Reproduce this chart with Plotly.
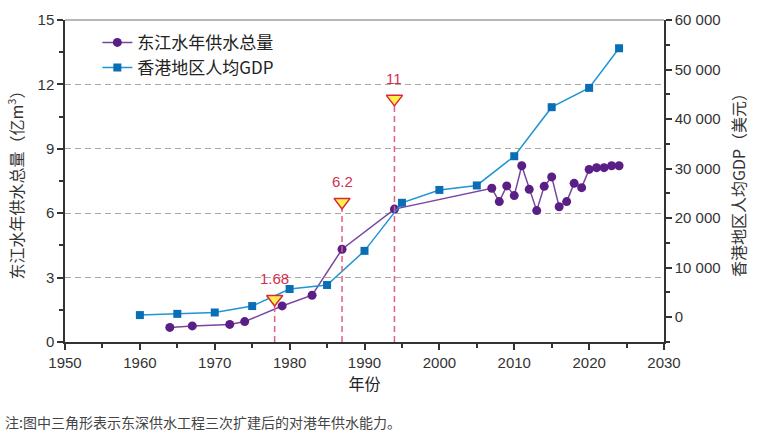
import plotly.graph_objects as go

# ---------------- data ----------------
water_years = [1964, 1967, 1972, 1974, 1979, 1983, 1987, 1994,
               2007, 2008, 2009, 2010, 2011, 2012, 2013, 2014, 2015,
               2016, 2017, 2018, 2019, 2020, 2021, 2022, 2023, 2024]
water_supply = [0.68, 0.75, 0.82, 0.95, 1.68, 2.18, 4.32, 6.19,
                7.16, 6.54, 7.27, 6.82, 8.21, 7.11, 6.12, 7.25, 7.69,
                6.30, 6.54, 7.39, 7.19, 8.04, 8.12, 8.12, 8.21, 8.21]

gdp_years = [1960, 1965, 1970, 1975, 1980, 1985, 1990, 1995,
             2000, 2005, 2010, 2015, 2020, 2024]
gdp_per_capita = [430, 680, 960, 2250, 5700, 6500, 13400, 23100,
                  25700, 26600, 32500, 42400, 46300, 54300]

capacity_years = [1978, 1987, 1994]
capacity_values = [1.68, 6.2, 11]
capacity_labels = ["1.68", "6.2", "11"]

x_tickvals = [1950, 1960, 1970, 1980, 1990, 2000, 2010, 2020, 2030]
y_tickvals = [0, 3, 6, 9, 12, 15]
y2_tickvals = [0, 10000, 20000, 30000, 40000, 50000, 60000]
y2_ticktext = ["0", "10 000", "20 000", "30 000", "40 000", "50 000", "60 000"]

# ---------------- layout constants ----------------
W, H = 768, 441
M_L, M_R, M_T, M_B = 65, 104, 20, 99
PLOT_H = H - M_T - M_B
Y_MAX = 15
TRI_SIZE = 14
px_per_unit = PLOT_H / Y_MAX
tri_offset = (TRI_SIZE / 2) / px_per_unit  # tip of triangle sits on the value

PURPLE_M = "#5a1f86"
PURPLE_L = "#7a45a0"
BLUE_M = "#0a6eb4"
BLUE_L = "#1f95d6"
RED = "#d2304f"
RED_L = "#e06080"
AX = "#333333"
CJK = "Noto Sans CJK SC"
LAT = "Liberation Sans"

fig = go.Figure()

fig.add_trace(go.Scatter(
    x=water_years, y=water_supply, name="东江水年供水总量",
    mode="lines+markers", yaxis="y",
    line=dict(color=PURPLE_L, width=1.5),
    marker=dict(symbol="circle", size=9, color=PURPLE_M),
))
fig.add_trace(go.Scatter(
    x=gdp_years, y=gdp_per_capita, name="香港地区人均GDP",
    mode="lines+markers", yaxis="y2",
    line=dict(color=BLUE_L, width=1.5),
    marker=dict(symbol="square", size=8, color=BLUE_M),
))

# dashed vertical lines for capacity
for yr, v in zip(capacity_years, capacity_values):
    fig.add_trace(go.Scatter(
        x=[yr, yr], y=[0, v], mode="lines", yaxis="y3", showlegend=False,
        hoverinfo="skip",
        line=dict(color=RED_L, width=1.5, dash="6px,4px"),
    ))

fig.add_trace(go.Scatter(
    x=capacity_years, y=[v + tri_offset for v in capacity_values],
    mode="markers", yaxis="y3", showlegend=False,
    marker=dict(symbol="triangle-down", size=TRI_SIZE, color="#fff04a",
                line=dict(color="#d6283e", width=1.5)),
))

for yr, v, t in zip(capacity_years, capacity_values, capacity_labels):
    fig.add_annotation(x=yr, y=v, xref="x", yref="y3", text=t,
                       showarrow=False, yanchor="bottom", yshift=17,
                       font=dict(family=LAT, size=15, color=RED))

# note
fig.add_annotation(xref="paper", yref="paper",
                   x=(3 - M_L) / (W - M_L - M_R), y=-(422 - M_T - PLOT_H) / PLOT_H,
                   xanchor="left", yanchor="middle", showarrow=False,
                   text="注:图中三角形表示东深供水工程三次扩建后的对港年供水能力。",
                   font=dict(family=CJK, size=14, color="#444444"))

tickfont = dict(family=LAT, size=15, color="#333333")
titlefont = dict(family=CJK, size=16, color="#333333")

fig.update_layout(
    width=W, height=H,
    margin=dict(l=M_L, r=M_R, t=M_T, b=M_B),
    plot_bgcolor="white", paper_bgcolor="white",
    xaxis=dict(range=[1950, 2030], tickmode="array", tickvals=x_tickvals,
               ticks="outside", ticklen=6, tickwidth=1.5, tickcolor=AX,
               minor=dict(dtick=5, tick0=1950, ticks="outside", ticklen=4,
                          tickwidth=1.5, tickcolor=AX, showgrid=False),
               showline=True, linecolor=AX, linewidth=1.5, mirror=False,
               showgrid=False, zeroline=False, tickfont=tickfont,
               title=dict(text="年份", font=dict(family=CJK, size=16, color="#222222"),
                          standoff=9)),
    yaxis=dict(range=[0, Y_MAX], tickmode="array", tickvals=y_tickvals,
               ticks="outside", ticklen=6, tickwidth=1.5, tickcolor=AX,
               minor=dict(dtick=1.5, tick0=0, ticks="outside", ticklen=4,
                          tickwidth=1.5, tickcolor=AX, showgrid=False),
               showline=True, linecolor=AX, linewidth=1.5,
               showgrid=True, gridcolor="#a8a8a8", gridwidth=1, griddash="6px,4px",
               zeroline=False, tickfont=tickfont,
               title=dict(text="东江水年供水总量（亿m<sup>3</sup>）", font=titlefont,
                          standoff=10)),
    yaxis2=dict(range=[-5000, 60000], overlaying="y", side="right",
                tickmode="array", tickvals=y2_tickvals, ticktext=y2_ticktext,
                ticks="outside", ticklen=6, tickwidth=1.5, tickcolor=AX,
                minor=dict(tickmode="linear", dtick=5000, tick0=-5000, ticks="outside",
                           ticklen=4, tickwidth=1.5, tickcolor=AX, showgrid=False),
                showline=True, linecolor=AX, linewidth=1.5,
                showgrid=False, zeroline=False, tickfont=tickfont,
                title=dict(text="香港地区人均GDP（美元）", font=titlefont, standoff=14)),
    yaxis3=dict(range=[0, Y_MAX], overlaying="y", visible=False),
    legend=dict(x=0.054, y=0.985, xanchor="left", yanchor="top",
                bgcolor="rgba(0,0,0,0)", font=dict(family=CJK, size=17, color="#222222"),
                itemwidth=30, tracegroupgap=0),
    showlegend=True,
)

# light top border of the frame
fig.add_shape(type="line", xref="paper", yref="paper", x0=0, x1=1, y0=1, y1=1,
              line=dict(color="#a0a0a0", width=1.5))

fig.write_html("out.html")
